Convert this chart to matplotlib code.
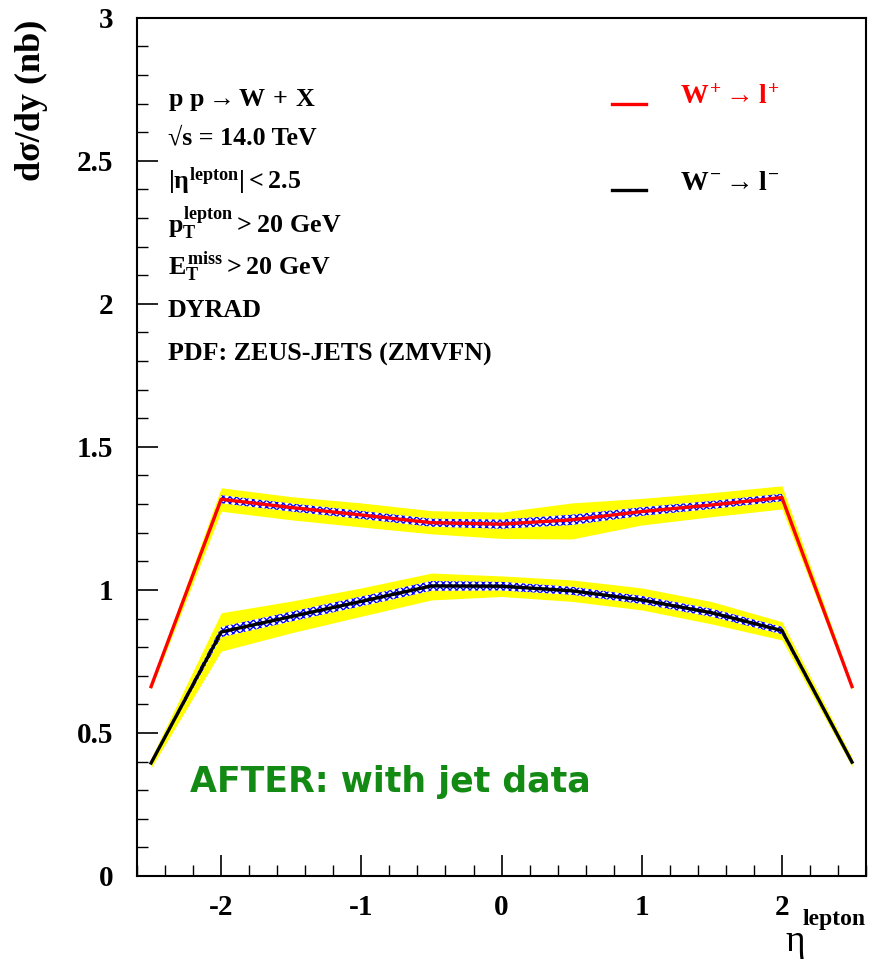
import numpy as np
import matplotlib
matplotlib.use("Agg")
import matplotlib.pyplot as plt
from matplotlib.ticker import MultipleLocator

plt.rcParams['font.family'] = ['Liberation Serif', 'DejaVu Serif']
plt.rcParams['font.weight'] = 'bold'
plt.rcParams['mathtext.fontset'] = 'custom'
plt.rcParams['mathtext.rm'] = 'Liberation Serif:bold'
plt.rcParams['mathtext.it'] = 'Liberation Serif:bold'
plt.rcParams['mathtext.bf'] = 'Liberation Serif:bold'
plt.rcParams['axes.unicode_minus'] = False
plt.rcParams['hatch.linewidth'] = 1.0

# eta points
eta = [-2.5, -2.0, -1.5, -1.0, -0.5, 0.0, 0.5, 1.0, 1.5, 2.0, 2.5]

# W+ -> l+ central and bands
wp = [0.662, 1.317, 1.288, 1.262, 1.235, 1.230, 1.245, 1.274, 1.297, 1.323, 0.662]
wp_ylo = [0.652, 1.275, 1.245, 1.220, 1.196, 1.180, 1.178, 1.227, 1.256, 1.283, 0.652]
wp_yhi = [0.672, 1.357, 1.326, 1.304, 1.277, 1.272, 1.304, 1.320, 1.340, 1.364, 0.672]
wp_berr = [0.006, 0.014, 0.014, 0.014, 0.014, 0.016, 0.018, 0.015, 0.014, 0.013, 0.006]

# W- -> l- central and bands
wm = [0.395, 0.853, 0.907, 0.960, 1.014, 1.013, 0.997, 0.965, 0.920, 0.858, 0.398]
wm_ylo = [0.378, 0.786, 0.850, 0.908, 0.965, 0.977, 0.960, 0.930, 0.881, 0.825, 0.382]
wm_yhi = [0.412, 0.920, 0.961, 1.007, 1.059, 1.049, 1.035, 1.007, 0.959, 0.889, 0.414]
wm_berr = [0.006, 0.018, 0.017, 0.017, 0.017, 0.015, 0.014, 0.014, 0.014, 0.013, 0.006]

fig = plt.figure(figsize=(8.73, 9.6), dpi=100)
ax = fig.add_axes([0.157, 0.0875, 0.835, 0.894])

for yc, lo, hi, be, col in [(wp, wp_ylo, wp_yhi, wp_berr, 'red'),
                            (wm, wm_ylo, wm_yhi, wm_berr, 'black')]:
    yc = np.array(yc)
    be = np.array(be)
    ax.fill_between(eta, lo, hi, color='yellow', lw=0, zorder=1)
    ax.fill_between(eta, yc - be, yc + be, facecolor='white', edgecolor='blue',
                    hatch='xxxxx', lw=0, zorder=2)
    ax.plot(eta, yc, color=col, lw=2.4, zorder=3)

ax.set_xlim(-2.6, 2.6)
ax.set_ylim(0, 3)
ax.xaxis.set_major_locator(MultipleLocator(1))
ax.xaxis.set_minor_locator(MultipleLocator(0.2))
ax.yaxis.set_major_locator(MultipleLocator(0.5))
ax.yaxis.set_minor_locator(MultipleLocator(0.1))
ax.tick_params(which='both', direction='in', top=False, right=False, labelsize=21)
ax.tick_params(which='major', length=15, width=1.2)
ax.tick_params(which='minor', length=8, width=1.0)
ax.tick_params(axis='x', pad=13)
ax.tick_params(axis='y', pad=17)
ax.set_yticks([0, 0.5, 1, 1.5, 2, 2.5, 3])
ax.set_yticklabels(['0', '0.5', '1', '1.5', '2', '2.5', '3'])
for s in ax.spines.values():
    s.set_linewidth(1.5)

fig.text(0.036, 0.98, 'dσ/dy (nb)', rotation=90, ha='center', va='top', fontsize=26)
fig.text(785 / 873, 1 - 942 / 960, 'η', ha='left', va='center', fontsize=27,
         weight='normal')
fig.text(803 / 873, 1 - 919 / 960, 'lepton', ha='left', va='center', fontsize=17)

info = [r'$p\ p \rightarrow W\,+\,X$',
        '√s = 14.0 TeV',
        r'$|\eta^{lepton}| < 2.5$',
        r'$p_{T}^{lepton} > 20\ GeV$',
        r'$E_{T}^{miss} > 20\ GeV$',
        'DYRAD',
        'PDF: ZEUS-JETS (ZMVFN)']
ys = [100, 138, 181, 224, 267, 310, 354]
for t, yp in zip(info, ys):
    fig.text(168 / 873, 1 - yp / 960, t, ha='left', va='center', fontsize=18.7)

# legend
fig.lines.append(plt.Line2D([612 / 873, 646 / 873], [1 - 104 / 960] * 2,
                            color='red', lw=2.4, transform=fig.transFigure))
fig.lines.append(plt.Line2D([612 / 873, 646 / 873], [1 - 190 / 960] * 2,
                            color='black', lw=2.4, transform=fig.transFigure))
fig.text(680 / 873, 1 - 97 / 960, r'$W^{+} \rightarrow l^{+}$', color='red',
         ha='left', va='center', fontsize=20)
fig.text(680 / 873, 1 - 184 / 960, r'$W^{-} \rightarrow l^{-}$', color='black',
         ha='left', va='center', fontsize=20)

fig.text(190 / 873, 1 - 782 / 960, 'AFTER: with jet data', color='#138a13',
         family='DejaVu Sans', weight='bold', ha='left', va='center', fontsize=25)

fig.savefig('out.png', dpi=100)
